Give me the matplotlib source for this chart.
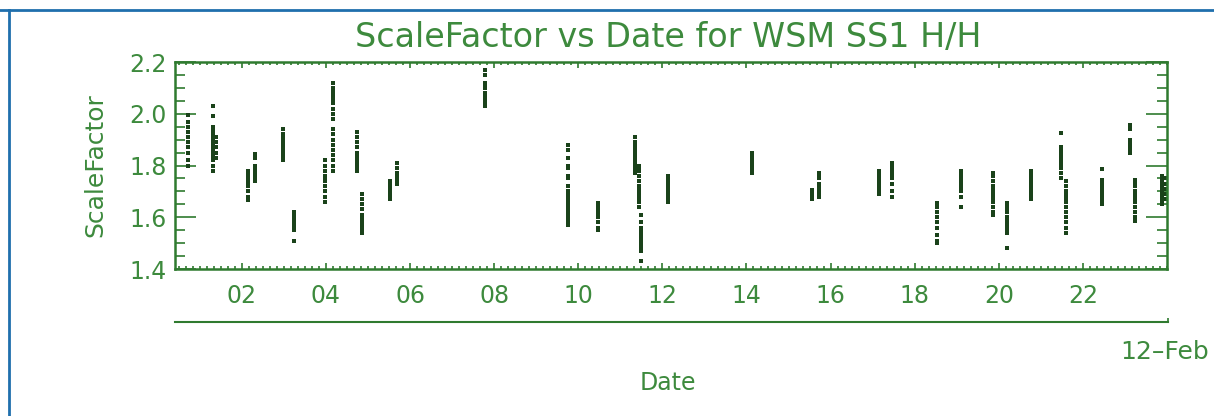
import matplotlib
matplotlib.use("Agg")
import matplotlib.pyplot as plt
from matplotlib.ticker import MultipleLocator, FixedLocator
from matplotlib.lines import Line2D

# day of month (Feb) for each burst of measurements
dias = [0.72, 1.31, 1.38, 2.15, 2.31, 2.98, 3.23, 3.97, 4.16, 4.73, 4.85, 5.53, 5.68,
        7.78, 9.76, 10.46, 11.35, 11.45, 11.50, 12.14, 14.13, 15.56, 15.72, 17.16,
        17.46, 18.53, 19.10, 19.87, 20.19, 20.76, 21.47, 21.59, 22.46, 23.13, 23.23,
        23.87, 23.97]

# ScaleFactor values read for each burst
valores = [
    [1.995, 1.97, 1.95, 1.93, 1.91, 1.89, 1.87, 1.85, 1.82, 1.80],
    [2.03, 1.99, 1.95, 1.94, 1.93, 1.92, 1.91, 1.90, 1.89, 1.88, 1.87, 1.86, 1.85, 1.84, 1.83, 1.82, 1.80, 1.78],
    [1.91, 1.89, 1.87, 1.85, 1.83],
    [1.78, 1.77, 1.765, 1.76, 1.755, 1.75, 1.745, 1.74, 1.735, 1.73, 1.72, 1.70, 1.68, 1.665],
    [1.845, 1.83, 1.80, 1.79, 1.78, 1.77, 1.76, 1.75, 1.74],
    [1.94, 1.92, 1.91, 1.90, 1.89, 1.885, 1.88, 1.875, 1.87, 1.86, 1.85, 1.84, 1.83, 1.82],
    [1.62, 1.61, 1.60, 1.595, 1.59, 1.585, 1.58, 1.575, 1.57, 1.56, 1.55, 1.51],
    [1.82, 1.80, 1.78, 1.76, 1.75, 1.74, 1.72, 1.70, 1.68, 1.66],
    [2.12, 2.10, 2.09, 2.085, 2.08, 2.07, 2.06, 2.05, 2.04, 2.02, 2.00, 1.98, 1.94, 1.92, 1.90, 1.88, 1.86, 1.84, 1.82, 1.80, 1.78],
    [1.93, 1.91, 1.89, 1.87, 1.85, 1.84, 1.83, 1.82, 1.815, 1.81, 1.80, 1.79, 1.78],
    [1.69, 1.67, 1.65, 1.63, 1.61, 1.60, 1.59, 1.58, 1.57, 1.56, 1.55, 1.54],
    [1.74, 1.735, 1.73, 1.72, 1.71, 1.705, 1.70, 1.69, 1.68, 1.67],
    [1.81, 1.79, 1.77, 1.76, 1.75, 1.74, 1.73],
    [2.17, 2.15, 2.12, 2.11, 2.10, 2.08, 2.07, 2.06, 2.05, 2.04, 2.03],
    [1.88, 1.86, 1.83, 1.80, 1.79, 1.76, 1.75, 1.72, 1.70, 1.69, 1.68, 1.67, 1.66, 1.65, 1.64, 1.63, 1.62, 1.61, 1.60, 1.585, 1.57],
    [1.655, 1.645, 1.635, 1.625, 1.615, 1.60, 1.58, 1.56, 1.55],
    [1.91, 1.89, 1.88, 1.87, 1.86, 1.85, 1.84, 1.83, 1.82, 1.81, 1.80, 1.79, 1.78, 1.77],
    [1.80, 1.79, 1.78, 1.76, 1.74, 1.72, 1.71, 1.70, 1.69, 1.68, 1.67, 1.66, 1.64],
    [1.61, 1.58, 1.56, 1.55, 1.54, 1.53, 1.52, 1.51, 1.50, 1.49, 1.48, 1.47, 1.43],
    [1.76, 1.75, 1.74, 1.73, 1.72, 1.71, 1.70, 1.69, 1.68, 1.67, 1.66],
    [1.85, 1.845, 1.84, 1.835, 1.83, 1.825, 1.82, 1.815, 1.81, 1.805, 1.80, 1.795, 1.79, 1.785, 1.78, 1.775, 1.77],
    [1.705, 1.70, 1.695, 1.69, 1.685, 1.68, 1.675, 1.67],
    [1.77, 1.765, 1.76, 1.75, 1.73, 1.72, 1.71, 1.70, 1.69, 1.68],
    [1.78, 1.77, 1.76, 1.75, 1.74, 1.73, 1.72, 1.71, 1.70, 1.69],
    [1.81, 1.80, 1.79, 1.78, 1.775, 1.77, 1.76, 1.75, 1.73, 1.70, 1.68],
    [1.655, 1.64, 1.62, 1.60, 1.58, 1.56, 1.53, 1.51, 1.50],
    [1.78, 1.77, 1.76, 1.75, 1.74, 1.73, 1.72, 1.71, 1.70, 1.68, 1.64],
    [1.77, 1.76, 1.74, 1.72, 1.71, 1.70, 1.69, 1.68, 1.67, 1.66, 1.64, 1.62, 1.61],
    [1.655, 1.645, 1.63, 1.62, 1.60, 1.59, 1.58, 1.57, 1.56, 1.55, 1.54, 1.48],
    [1.78, 1.775, 1.77, 1.76, 1.75, 1.74, 1.73, 1.72, 1.71, 1.70, 1.69, 1.68, 1.67],
    [1.925, 1.87, 1.86, 1.85, 1.84, 1.83, 1.82, 1.81, 1.80, 1.79, 1.77, 1.75],
    [1.74, 1.72, 1.70, 1.69, 1.68, 1.67, 1.66, 1.64, 1.62, 1.60, 1.58, 1.56, 1.54],
    [1.785, 1.745, 1.735, 1.73, 1.72, 1.71, 1.70, 1.695, 1.69, 1.68, 1.67, 1.66, 1.65],
    [1.955, 1.94, 1.90, 1.89, 1.88, 1.87, 1.86, 1.85],
    [1.745, 1.73, 1.72, 1.70, 1.69, 1.68, 1.67, 1.66, 1.64, 1.62, 1.60, 1.585],
    [1.76, 1.75, 1.74, 1.73, 1.72, 1.71, 1.70, 1.69, 1.68, 1.67, 1.66, 1.65],
    [1.75, 1.73, 1.71, 1.69, 1.67],
]

xticks = [2, 4, 6, 8, 10, 12, 14, 16, 18, 20, 22]
xlabels = ["02", "04", "06", "08", "10", "12", "14", "16", "18", "20", "22"]
yticks = [1.4, 1.6, 1.8, 2.0, 2.2]

verde = "#2f7a2f"
verde_txt = "#3d8a3d"
punto = "#1a421a"

W, H = 1214, 416
fig = plt.figure(figsize=(W/100, H/100), dpi=100)
plt.rcParams['font.family'] = ['DejaVu Sans']

ax = fig.add_axes([175/W, 1 - 269/H, 992/W, 207/H])
for d, vals in zip(dias, valores):
    ax.plot([d]*len(vals), vals, 's', ms=2.4, mew=0, color=punto)

ax.set_xlim(0.41, 24.0)
ax.set_ylim(1.4, 2.2)
ax.set_xticks(xticks)
ax.set_xticklabels(xlabels)
ax.set_yticks(yticks)
ax.set_yticklabels(["%.1f" % v for v in yticks])
ax.xaxis.set_minor_locator(MultipleLocator(1/6))
ax.yaxis.set_minor_locator(MultipleLocator(0.05))
ax.tick_params(which='both', direction='in', top=True, right=True, color=verde,
               labelcolor=verde_txt, labelsize=17, width=1.2)
ax.tick_params(axis='y', which='major', length=15, pad=6)
ax.tick_params(axis='y', which='minor', length=7.5)
ax.tick_params(axis='x', which='major', length=4, pad=11)
ax.tick_params(axis='x', which='minor', length=2)
for s in ax.spines.values():
    s.set_color(verde)
    s.set_linewidth(1.8)
ax.set_ylabel("ScaleFactor", color=verde_txt, fontsize=18, labelpad=16)

# second date axis
ax2 = fig.add_axes([175/W, 1 - 322/H, 993/W, 0.0001])
ax2.set_xlim(0, 1)
ax2.set_yticks([])
for k in ['top', 'left', 'right']:
    ax2.spines[k].set_visible(False)
ax2.spines['bottom'].set_color(verde)
ax2.spines['bottom'].set_linewidth(1.5)
ax2.xaxis.set_major_locator(FixedLocator([1]))
ax2.tick_params(axis='x', direction='in', length=3, color=verde, labelbottom=False, width=1.2)

fig.text(668/W, 1 - 38/H, "ScaleFactor vs Date for WSM SS1 H/H", ha='center', va='center',
         color=verde_txt, fontsize=24)
fig.text(1120/W, 1 - 352/H, "12\u2013Feb", ha='left', va='center', color=verde_txt, fontsize=18)
fig.text(668/W, 1 - 383/H, "Date", ha='center', va='center', color=verde_txt, fontsize=17)

# marco azul
fig.add_artist(Line2D([0, 1], [1 - 10/H, 1 - 10/H], transform=fig.transFigure, color="#1f6fad", lw=2))
fig.add_artist(Line2D([9/W, 9/W], [0, 1 - 10/H], transform=fig.transFigure, color="#1f6fad", lw=2))

fig.savefig("out.png", dpi=100, facecolor="white")
